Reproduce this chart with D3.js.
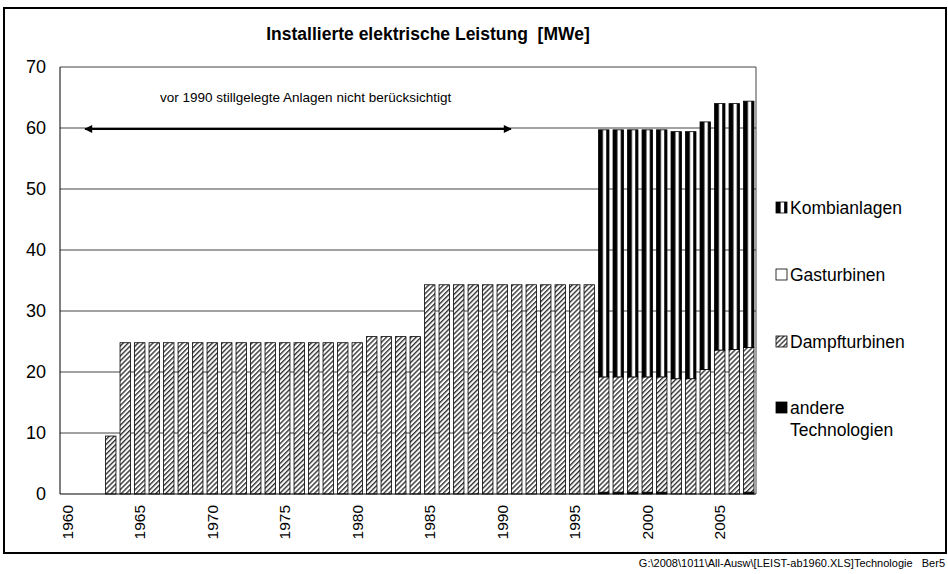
<!DOCTYPE html>
<html>
<head>
<meta charset="utf-8">
<script src="https://cdn.jsdelivr.net/npm/d3@7"></script>
<style>
  body { margin: 0; background: #fff; }
  svg text { font-family: "Liberation Sans", Arial, sans-serif; fill: #000; white-space: pre; }
</style>
</head>
<body>
<div id="chart"></div>
<script>
// years 1960 .. 2007
var years = d3.range(1960, 2008);

// values in MWe
var andere = [0,0,0,0,0,0,0,0,0,0, 0,0,0,0,0,0,0,0,0,0,
              0,0,0,0,0,0,0,0,0,0, 0,0,0,0,0,0,0,0.3,0.3,0.3,
              0.3,0.3,0,0,0,0,0,0.3];
var dampf = [0,0,0,9.5,24.8,24.8,24.8,24.8,24.8,24.8,
             24.8,24.8,24.8,24.8,24.8,24.8,24.8,24.8,24.8,24.8,
             24.8,25.8,25.8,25.8,25.8,34.3,34.3,34.3,34.3,34.3,
             34.3,34.3,34.3,34.3,34.3,34.3,34.3,18.9,18.9,18.9,
             18.9,18.9,18.9,18.9,20.4,23.6,23.7,23.7];
var gas = years.map(function() { return 0; });
var kombi = [0,0,0,0,0,0,0,0,0,0, 0,0,0,0,0,0,0,0,0,0,
             0,0,0,0,0,0,0,0,0,0, 0,0,0,0,0,0,0,40.5,40.5,40.5,
             40.5,40.5,40.5,40.5,40.6,40.4,40.3,40.4];

var seriesNames = ["andere", "Dampfturbinen", "Gasturbinen", "Kombianlagen"];
var yTicks = [0, 10, 20, 30, 40, 50, 60, 70];
var xTickYears = [1960, 1965, 1970, 1975, 1980, 1985, 1990, 1995, 2000, 2005];

var rows = years.map(function(y, i) {
    return {year: y, andere: andere[i], Dampfturbinen: dampf[i], Gasturbinen: gas[i], Kombianlagen: kombi[i]};
});

var W = 948, H = 574;
var plotLeft = 60, plotRight = 756, plotTop = 67, plotBottom = 494;

var svg = d3.select("#chart").append("svg")
    .attr("width", W)
    .attr("height", H);

/******** patterns ********/
var defs = svg.append("defs");
var hatch = defs.append("pattern")
    .attr("id", "hatch")
    .attr("patternUnits", "userSpaceOnUse")
    .attr("width", 3.5).attr("height", 3.5)
    .attr("patternTransform", "rotate(45)");
hatch.append("rect").attr("width", 3.5).attr("height", 3.5).attr("fill", "#fff");
hatch.append("rect").attr("width", 1.4).attr("height", 3.5).attr("fill", "#333");

var stripe = defs.append("pattern")
    .attr("id", "stripe")
    .attr("patternUnits", "objectBoundingBox")
    .attr("patternContentUnits", "objectBoundingBox")
    .attr("width", 1).attr("height", 1);
stripe.append("rect").attr("width", 1).attr("height", 1).attr("fill", "#000");
stripe.append("rect").attr("x", 0.42).attr("width", 0.32).attr("height", 1).attr("fill", "#fff");

var fills = {andere: "#000", Dampfturbinen: "url(#hatch)", Gasturbinen: "#fff", Kombianlagen: "url(#stripe)"};

/******** scales ********/
var x = d3.scaleBand()
    .domain(years)
    .range([plotLeft, plotRight])
    .paddingInner(0.28)
    .paddingOuter(0.14);
var xBand = d3.scaleBand().domain(years).range([plotLeft, plotRight]);

var y = d3.scaleLinear()
    .domain([0, 70])
    .range([plotBottom, plotTop]);

// outer frame
svg.append("rect")
    .attr("x", 4).attr("y", 8)
    .attr("width", 942).attr("height", 545)
    .attr("fill", "none")
    .attr("stroke", "#000")
    .attr("stroke-width", 2);

// title
svg.append("text")
    .attr("x", 428).attr("y", 40)
    .attr("text-anchor", "middle")
    .style("font-size", "17.5px")
    .style("font-weight", "bold")
    .text("Installierte elektrische Leistung  [MWe]");

// grid
svg.append("g")
    .selectAll("line")
    .data(yTicks.filter(function(d) { return d > 0; }))
    .enter().append("line")
    .attr("x1", plotLeft).attr("x2", plotRight)
    .attr("y1", function(d) { return y(d); })
    .attr("y2", function(d) { return y(d); })
    .attr("stroke", "#444")
    .attr("stroke-width", 1);

svg.append("line")
    .attr("x1", plotRight).attr("x2", plotRight)
    .attr("y1", plotTop).attr("y2", plotBottom)
    .attr("stroke", "#444");

// stacked bars
var stack = d3.stack().keys(seriesNames);
var layers = stack(rows);

svg.append("g")
    .selectAll("g")
    .data(layers)
    .enter().append("g")
    .attr("fill", function(d) { return fills[d.key]; })
    .selectAll("rect")
    .data(function(d) { return d.filter(function(p) { return p[1] - p[0] > 0; }); })
    .enter().append("rect")
    .attr("x", function(d) { return x(d.data.year); })
    .attr("width", x.bandwidth())
    .attr("y", function(d) { return y(d[1]); })
    .attr("height", function(d) { return y(d[0]) - y(d[1]); })
    .attr("stroke", "#000")
    .attr("stroke-width", 0.8);

// axes
svg.append("line")
    .attr("x1", plotLeft).attr("x2", plotLeft)
    .attr("y1", plotTop).attr("y2", plotBottom)
    .attr("stroke", "#000");
svg.append("line")
    .attr("x1", plotLeft).attr("x2", plotRight)
    .attr("y1", plotBottom).attr("y2", plotBottom)
    .attr("stroke", "#000");

svg.append("g")
    .selectAll("text")
    .data(yTicks)
    .enter().append("text")
    .attr("x", 46)
    .attr("y", function(d) { return y(d); })
    .attr("dy", "0.35em")
    .attr("text-anchor", "end")
    .style("font-size", "18px")
    .text(function(d) { return d; });

svg.append("g")
    .selectAll("text")
    .data(xTickYears)
    .enter().append("text")
    .attr("transform", function(d) {
        return "translate(" + (xBand(d) + xBand.bandwidth() / 2) + "," + 505 + ") rotate(-90)";
    })
    .attr("dy", "0.35em")
    .attr("text-anchor", "end")
    .style("font-size", "15.5px")
    .text(function(d) { return d; });

// annotation
svg.append("text")
    .attr("x", 160).attr("y", 102)
    .style("font-size", "13.5px")
    .text("vor 1990 stillgelegte Anlagen nicht berücksichtigt");

defs.append("marker")
    .attr("id", "head")
    .attr("viewBox", "0 0 10 10")
    .attr("refX", 9).attr("refY", 5)
    .attr("markerWidth", 5).attr("markerHeight", 4)
    .attr("orient", "auto-start-reverse")
    .append("path").attr("d", "M0,0 L10,5 L0,10 z").attr("fill", "#000");

svg.append("line")
    .attr("x1", 85).attr("x2", 511)
    .attr("y1", 129).attr("y2", 129)
    .attr("stroke", "#000")
    .attr("stroke-width", 2)
    .attr("marker-start", "url(#head)")
    .attr("marker-end", "url(#head)");

// legend
var legendItems = [
    {key: "Kombianlagen", lines: ["Kombianlagen"], y: 214},
    {key: "Gasturbinen", lines: ["Gasturbinen"], y: 281},
    {key: "Dampfturbinen", lines: ["Dampfturbinen"], y: 348},
    {key: "andere", lines: ["andere", "Technologien"], y: 414}
];
var lg = svg.append("g")
    .selectAll("g")
    .data(legendItems)
    .enter().append("g")
    .attr("transform", function(d) { return "translate(776," + d.y + ")"; });

lg.append("rect")
    .attr("x", 0).attr("y", -12)
    .attr("width", 11).attr("height", 11)
    .attr("fill", function(d) { return fills[d.key]; })
    .attr("stroke", "#000")
    .attr("stroke-width", 0.8);

lg.append("text")
    .attr("x", 14)
    .style("font-size", "17.5px")
    .selectAll("tspan")
    .data(function(d) { return d.lines; })
    .enter().append("tspan")
    .attr("x", 14)
    .attr("dy", function(d, i) { return i === 0 ? 0 : 22; })
    .text(function(d) { return d; });

// footer
svg.append("text")
    .attr("x", 945).attr("y", 567)
    .attr("text-anchor", "end")
    .style("font-size", "11px")
    .text("G:\\2008\\1011\\All-Ausw\\[LEIST-ab1960.XLS]Technologie   Ber5");
</script>
</body>
</html>
